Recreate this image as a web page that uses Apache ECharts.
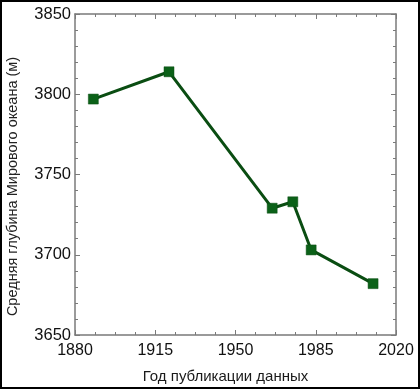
<!DOCTYPE html>
<html>
<head>
<meta charset="utf-8">
<script src="https://cdn.jsdelivr.net/npm/echarts@6/dist/echarts.min.js"></script>
<style>
  html, body { margin: 0; padding: 0; background: #fff; }
  #chart { width: 420px; height: 389px; }
</style>
</head>
<body>
<div id="chart"></div>
<script>
var years = [1888, 1921, 1966, 1975, 1983, 2010];
var depths = [3797, 3814, 3729, 3733, 3703, 3682];
var xName = 'Год публикации данных';
var yName = 'Средняя глубина Мирового океана (м)';

var points = [];
for (var i = 0; i < years.length; i++) {
  points.push([years[i], depths[i]]);
}

var axisColor = '#7a7a7a';
var plain = function (v) { return String(v); };
var fontFam = 'Liberation Sans, Arial, sans-serif';

var chart = echarts.init(document.getElementById('chart'));
chart.setOption({
  animation: false,
  grid: { left: 75, top: 14, width: 321, height: 321, outerBoundsMode: 'none', containLabel: false },
  graphic: [{
    type: 'rect',
    shape: { x: 1, y: 1, width: 418, height: 387 },
    style: { fill: 'none', stroke: '#000', lineWidth: 2 }
  }],
  xAxis: [{
    type: 'value', min: 1880, max: 2020, interval: 35,
    name: xName, nameLocation: 'middle', nameGap: 34,
    nameTextStyle: { color: '#1a1a1a', fontSize: 15, fontFamily: fontFam, padding: [0, 20, 0, 0] },
    axisLine: { lineStyle: { color: axisColor, width: 1.5 } },
    axisTick: { inside: true, length: 5, lineStyle: { color: axisColor } },
    minorTick: { show: true, splitNumber: 4, length: 3, lineStyle: { color: axisColor } },
    axisLabel: { margin: 8, color: '#111', fontSize: 16, fontFamily: fontFam, formatter: plain },
    splitLine: { show: false }
  }, {
    type: 'value', min: 1880, max: 2020, interval: 35, position: 'top',
    axisLine: { lineStyle: { color: axisColor, width: 1.5 } },
    axisTick: { inside: true, length: 5, lineStyle: { color: axisColor } },
    minorTick: { show: true, splitNumber: 4, length: 3, lineStyle: { color: axisColor } },
    axisLabel: { show: false },
    splitLine: { show: false }
  }],
  yAxis: [{
    type: 'value', min: 3650, max: 3850, interval: 50,
    name: yName, nameLocation: 'middle', nameGap: 55,
    nameTextStyle: { color: '#222', fontSize: 14.5, fontFamily: fontFam, padding: [0, 24, 0, 0] },
    axisLine: { show: true, lineStyle: { color: axisColor, width: 1.5 } },
    axisTick: { show: true, inside: true, length: 5, lineStyle: { color: axisColor } },
    minorTick: { show: true, splitNumber: 5, length: 3, lineStyle: { color: axisColor } },
    axisLabel: { margin: 4, color: '#111', fontSize: 16.5, fontFamily: fontFam, formatter: plain },
    splitLine: { show: false }
  }, {
    type: 'value', min: 3650, max: 3850, interval: 50, position: 'right',
    axisLine: { show: true, lineStyle: { color: axisColor, width: 1.5 } },
    axisTick: { show: true, inside: true, length: 5, lineStyle: { color: axisColor } },
    minorTick: { show: true, splitNumber: 5, length: 3, lineStyle: { color: axisColor } },
    axisLabel: { show: false },
    splitLine: { show: false }
  }],
  series: [{
    type: 'line',
    data: points,
    symbol: 'rect',
    symbolSize: 10,
    lineStyle: { color: '#0a4d12', width: 3 },
    itemStyle: { color: '#0b6118', borderColor: '#0a4d12', borderWidth: 0.5 }
  }]
});
</script>
</body>
</html>
